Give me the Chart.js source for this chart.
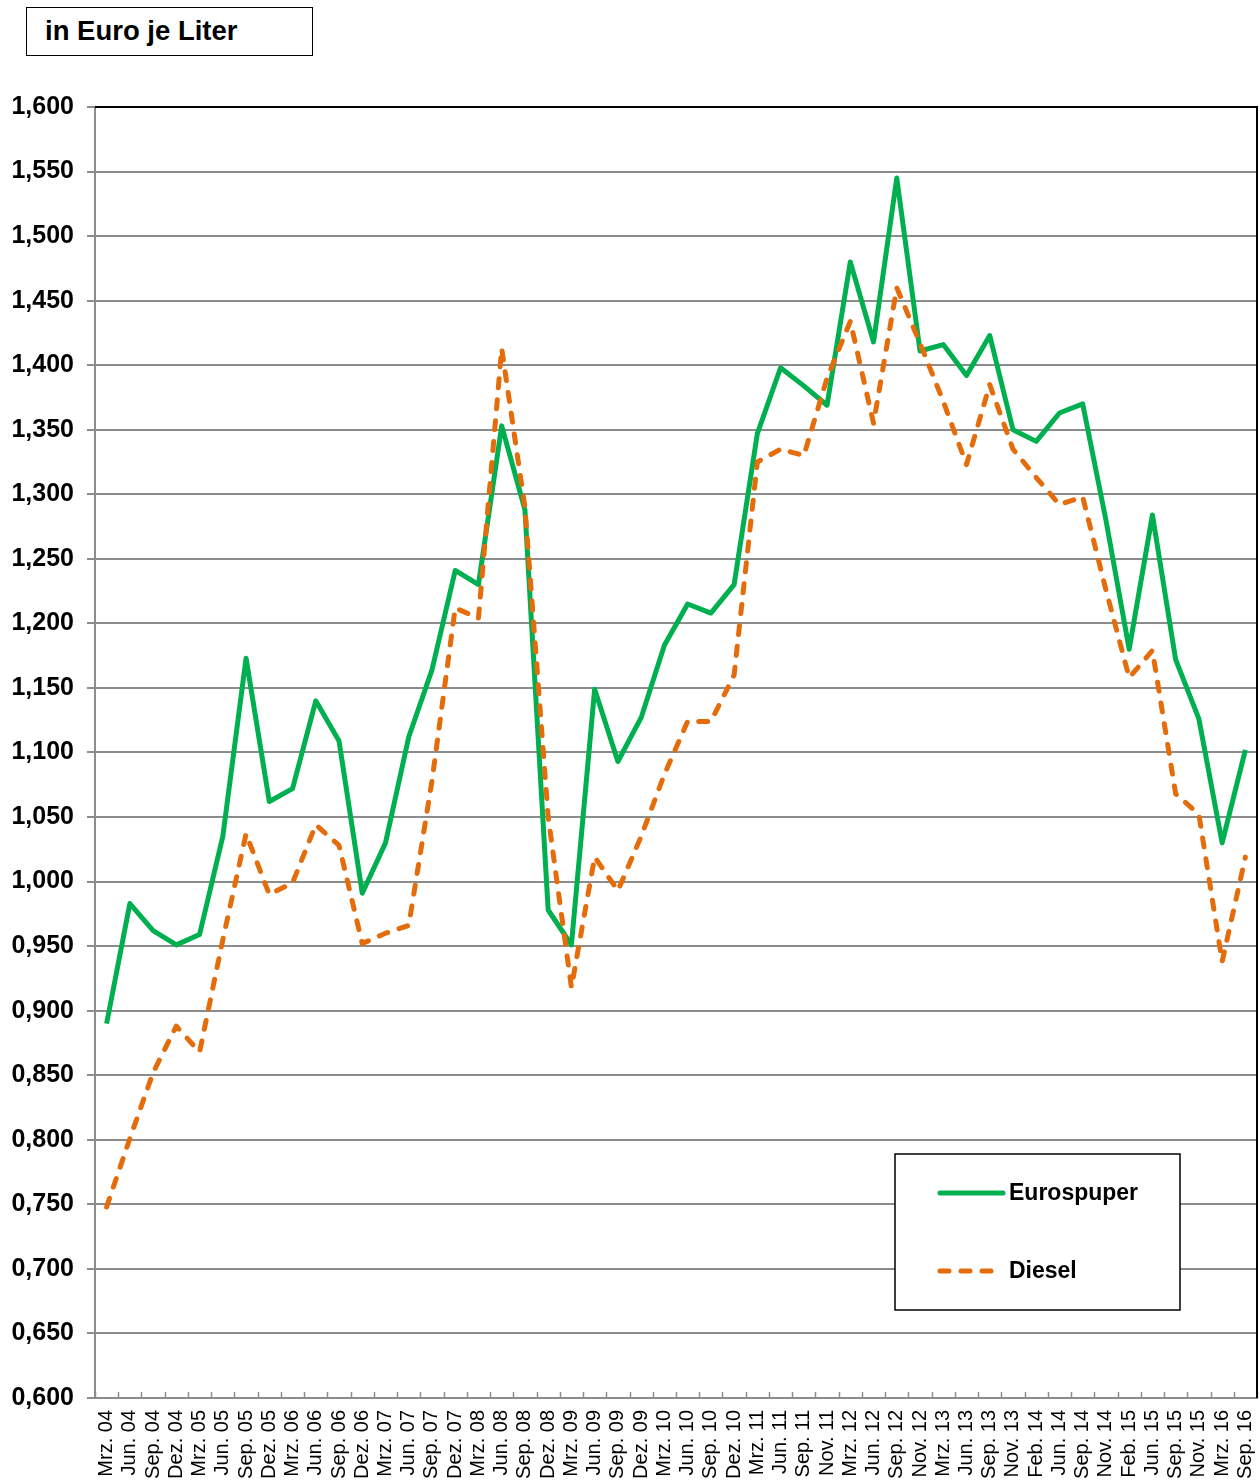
<!DOCTYPE html>
<html lang="de">
<head>
<meta charset="utf-8">
<title>Treibstoffpreise in Euro je Liter</title>
<script src="https://cdn.jsdelivr.net/npm/chart.js@4/dist/chart.umd.min.js"></script>
<style>
  html, body { margin: 0; padding: 0; background: #ffffff; }
  #wrap { position: relative; width: 1260px; height: 1480px; }
  #chart { position: absolute; left: 0; top: 0; }
  #unit {
    position: absolute; left: 26px; top: 7px; width: 287px; height: 49px;
    border: 1.5px solid #000; background: #fff; box-sizing: border-box;
    font: bold 27.5px "Liberation Sans", Arial, sans-serif; color: #000;
    line-height: 46px; padding-left: 18px;
  }
</style>
</head>
<body>
<div id="wrap">
  <canvas id="chart" width="1260" height="1480"></canvas>
  <div id="unit">in Euro je Liter</div>
</div>
<script>
// Quarterly fuel prices, Euro per litre
const periods = [
  'Mrz. 04', 'Jun. 04', 'Sep. 04', 'Dez. 04', 'Mrz. 05', 'Jun. 05', 'Sep. 05', 'Dez. 05',
  'Mrz. 06', 'Jun. 06', 'Sep. 06', 'Dez. 06', 'Mrz. 07', 'Jun. 07', 'Sep. 07', 'Dez. 07',
  'Mrz. 08', 'Jun. 08', 'Sep. 08', 'Dez. 08', 'Mrz. 09', 'Jun. 09', 'Sep. 09', 'Dez. 09',
  'Mrz. 10', 'Jun. 10', 'Sep. 10', 'Dez. 10', 'Mrz. 11', 'Jun. 11', 'Sep. 11', 'Nov. 11',
  'Mrz. 12', 'Jun. 12', 'Sep. 12', 'Nov. 12', 'Mrz. 13', 'Jun. 13', 'Sep. 13', 'Nov. 13',
  'Feb. 14', 'Jun. 14', 'Sep. 14', 'Nov. 14', 'Feb. 15', 'Jun. 15', 'Sep. 15', 'Nov. 15',
  'Mrz. 16', 'Sep. 16'
];

const eurosuper = [
  0.890, 0.983, 0.962, 0.951, 0.959, 1.035, 1.173, 1.062,
  1.072, 1.140, 1.109, 0.991, 1.030, 1.112, 1.164, 1.241,
  1.230, 1.353, 1.288, 0.978, 0.951, 1.149, 1.093, 1.127,
  1.183, 1.215, 1.208, 1.230, 1.347, 1.398, 1.384, 1.369,
  1.480, 1.418, 1.545, 1.411, 1.416, 1.392, 1.423, 1.350,
  1.341, 1.363, 1.370, 1.280, 1.180, 1.284, 1.172, 1.126,
  1.030, 1.102
];

const diesel = [
  0.748, 0.801, 0.852, 0.888, 0.868, 0.955, 1.037, 0.990,
  0.999, 1.044, 1.028, 0.952, 0.960, 0.966, 1.078, 1.212,
  1.204, 1.413, 1.290, 1.050, 0.918, 1.019, 0.993, 1.035,
  1.083, 1.124, 1.124, 1.160, 1.325, 1.335, 1.330, 1.390,
  1.434, 1.355, 1.460, 1.417, 1.372, 1.323, 1.385, 1.335,
  1.313, 1.292, 1.298, 1.226, 1.158, 1.179, 1.068, 1.052,
  0.938, 1.019
];

const seriesNames = ['Eurospuper', 'Diesel'];
const yMin = 0.6;
const yMax = 1.6;
const yStep = 0.05;

const FONT = '"Liberation Sans", Arial, sans-serif';
const GREEN = '#00b050';
const ORANGE = '#e46c0a';
const GRID = '#8c8c8c';

// Short inward tick marks between the period labels, plus the black frame on top/right
const frameAndTicks = {
  id: 'frameAndTicks',
  afterDraw(chart) {
    const { ctx, chartArea: a, scales: { x } } = chart;
    ctx.save();
    ctx.strokeStyle = GRID;
    ctx.lineWidth = 1.5;
    for (let i = 0; i <= periods.length; i++) {
      const px = Math.round(x.getPixelForValue(i - 0.5)) + 0.5;
      ctx.beginPath();
      ctx.moveTo(px, a.bottom);
      ctx.lineTo(px, a.bottom - 6);
      ctx.stroke();
    }
    ctx.strokeStyle = '#000';
    ctx.lineWidth = 2;
    ctx.beginPath();
    ctx.moveTo(a.left, a.top);
    ctx.lineTo(a.right, a.top);
    ctx.lineTo(a.right, a.bottom);
    ctx.stroke();
    ctx.restore();
  }
};

// Boxed legend in the lower right of the plot
const boxLegend = {
  id: 'boxLegend',
  afterDraw(chart) {
    const { ctx, chartArea: a } = chart;
    const bx = a.right - 362, by = a.bottom - 244, bw = 285, bh = 156;
    ctx.save();
    ctx.fillStyle = '#fff';
    ctx.fillRect(bx, by, bw, bh);
    ctx.strokeStyle = '#000';
    ctx.lineWidth = 1.5;
    ctx.strokeRect(bx, by, bw, bh);
    const rows = [
      { ds: chart.data.datasets[0], y: by + 39, len: 63 },
      { ds: chart.data.datasets[1], y: by + 117, len: 60 }
    ];
    rows.forEach(r => {
      ctx.strokeStyle = r.ds.borderColor;
      ctx.lineWidth = r.ds.borderWidth;
      ctx.lineCap = 'round';
      ctx.setLineDash(r.ds.borderDash || []);
      ctx.beginPath();
      ctx.moveTo(bx + 45, r.y);
      ctx.lineTo(bx + 45 + r.len, r.y);
      ctx.stroke();
      ctx.setLineDash([]);
      ctx.fillStyle = '#000';
      ctx.font = 'bold 23px ' + FONT;
      ctx.textBaseline = 'middle';
      ctx.fillText(r.ds.label, bx + 114, r.y + 1);
    });
    ctx.restore();
  }
};

new Chart(document.getElementById('chart'), {
  type: 'line',
  data: {
    labels: periods,
    datasets: [
      {
        label: seriesNames[0],
        data: eurosuper,
        borderColor: GREEN,
        backgroundColor: GREEN,
        borderWidth: 5,
        borderJoinStyle: 'round',
        pointRadius: 0,
        tension: 0,
        order: 2
      },
      {
        label: seriesNames[1],
        data: diesel,
        borderColor: ORANGE,
        backgroundColor: ORANGE,
        borderWidth: 5,
        borderDash: [9, 12],
        borderCapStyle: 'round',
        borderJoinStyle: 'round',
        pointRadius: 0,
        tension: 0,
        order: 1
      }
    ]
  },
  options: {
    responsive: false,
    animation: false,
    devicePixelRatio: 1,
    layout: { padding: { top: 107, right: 3, left: 0, bottom: 0 } },
    plugins: { legend: { display: false }, tooltip: { enabled: false } },
    scales: {
      x: {
        offset: true,
        grid: { display: false, drawTicks: false },
        border: { display: true, color: GRID, width: 2 },
        ticks: {
          autoSkip: false,
          minRotation: 90,
          maxRotation: 90,
          padding: 12,
          color: '#000',
          font: { family: FONT, size: 20 }
        },
        afterFit(scale) {
          scale.height = 82;
          scale.paddingLeft = 0;
          scale.paddingRight = 0;
        }
      },
      y: {
        min: yMin,
        max: yMax,
        grid: { color: GRID, lineWidth: 2, tickLength: 8, drawTicks: true },
        border: { display: true, color: GRID, width: 2 },
        ticks: {
          stepSize: yStep,
          padding: 13,
          color: '#000',
          font: { family: FONT, size: 25, weight: 'bold' },
          callback: v => v.toFixed(3).replace('.', ',')
        },
        afterFit(scale) {
          scale.width = 95;
          scale.paddingTop = 0;
          scale.paddingBottom = 0;
        }
      }
    }
  },
  plugins: [frameAndTicks, boxLegend]
});
</script>
</body>
</html>
